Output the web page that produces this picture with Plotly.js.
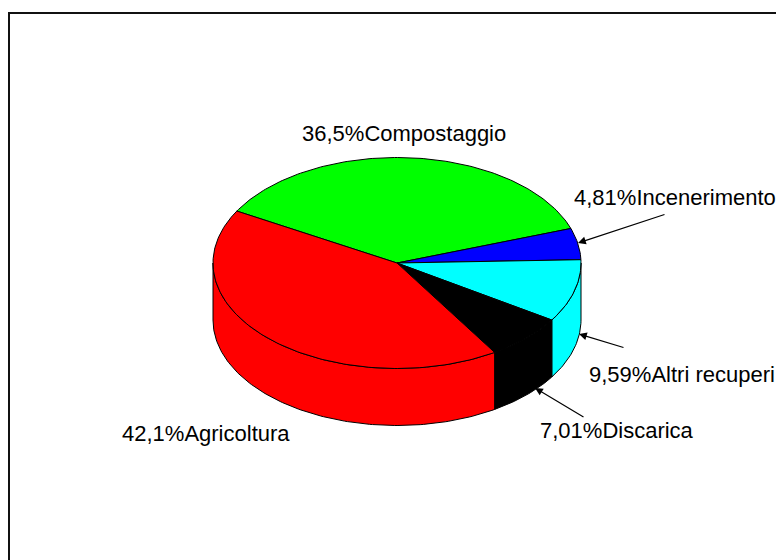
<!DOCTYPE html>
<html>
<head>
<meta charset="utf-8">
<script src="https://cdn.plot.ly/plotly-3.0.1.min.js"></script>
<style>
  html, body { margin: 0; padding: 0; background: #ffffff; }
  #chart { width: 776px; height: 560px; }
</style>
</head>
<body>
<div id="chart"></div>
<script>
// Destinazione dei fanghi: quote percentuali
const categories = ['Compostaggio', 'Incenerimento', 'Altri recuperi', 'Discarica', 'Agricoltura'];
const shares = [36.5, 4.81, 9.59, 7.01, 42.1];
const sliceColors = ['#00ff00', '#0000ff', '#00ffff', '#000000', '#ff0000'];

// Geometry of the tilted disc, in page pixels
const PIE = { cx: 397, cy: 263, rx: 184, ry: 105.5, depth: 57, startDeg: 150.5 };

const total = shares.reduce((a, b) => a + b, 0);
const fmt = v => String(v).replace('.', ',') + '%';

function arcPoints(t1, t2, dy) {
  const xs = [], ys = [];
  const n = Math.max(2, Math.ceil(Math.abs(t1 - t2)));
  for (let i = 0; i <= n; i++) {
    const t = (t1 + (t2 - t1) * i / n) * Math.PI / 180;
    xs.push(PIE.cx + PIE.rx * Math.cos(t));
    ys.push(PIE.cy - PIE.ry * Math.sin(t) + dy);
  }
  return { xs, ys };
}

// slice angle intervals, running clockwise from the start angle
const spans = [];
let acc = PIE.startDeg;
shares.forEach(v => {
  const sweep = v / total * 360;
  spans.push([acc, acc - sweep]);
  acc -= sweep;
});

const traces = [];

// visible side walls: front half of the disc, parametric angle in [-180, 0]
spans.forEach(([a, b], i) => {
  for (const shift of [0, 360, -360]) {
    const hi = Math.min(a + shift, 0);
    const lo = Math.max(b + shift, -180);
    if (hi > lo) {
      const top = arcPoints(hi, lo, 0);
      const bot = arcPoints(lo, hi, PIE.depth);
      traces.push({
        type: 'scatter', mode: 'lines', fill: 'toself',
        x: top.xs.concat(bot.xs, [top.xs[0]]),
        y: top.ys.concat(bot.ys, [top.ys[0]]),
        fillcolor: sliceColors[i],
        line: { color: '#000000', width: 1 },
        hoverinfo: 'skip'
      });
    }
  }
});

// top faces
spans.forEach(([a, b], i) => {
  const arc = arcPoints(a, b, 0);
  traces.push({
    type: 'scatter', mode: 'lines', fill: 'toself',
    x: [PIE.cx].concat(arc.xs, [PIE.cx]),
    y: [PIE.cy].concat(arc.ys, [PIE.cy]),
    fillcolor: sliceColors[i],
    line: { color: '#000000', width: 1 },
    hoverinfo: 'skip',
    name: categories[i]
  });
});

// label placement: [x, y, xanchor]
const labelPos = [
  [404, 133, 'center'],
  [572, 197, 'left'],
  [587, 374, 'left'],
  [538, 430, 'left'],
  [120, 433, 'left']
];
// leader arrows: [labelIndex, tipX, tipY, tailX, tailY]
const leaders = [
  [1, 578, 243, 666, 214],
  [2, 579, 334, 625, 348],
  [3, 535, 388, 585, 418]
];

const font = { family: 'Liberation Sans, Arial, sans-serif', size: 22, color: '#000000' };
const annotations = categories.map((c, i) => ({
  x: labelPos[i][0], y: labelPos[i][1], xref: 'x', yref: 'y',
  text: fmt(shares[i]) + c,
  showarrow: false, xanchor: labelPos[i][2], yanchor: 'middle',
  font: font
}));
leaders.forEach(([i, tx, ty, ax, ay]) => {
  annotations.push({
    x: tx, y: ty, xref: 'x', yref: 'y',
    ax: ax, ay: ay, axref: 'x', ayref: 'y',
    text: '', showarrow: true,
    arrowhead: 2, arrowsize: 1.3, arrowwidth: 1.2, arrowcolor: '#000000',
    standoff: 0, startstandoff: 0
  });
});

const layout = {
  width: 776, height: 560,
  margin: { l: 0, r: 0, t: 0, b: 0 },
  paper_bgcolor: '#ffffff', plot_bgcolor: '#ffffff',
  showlegend: false,
  xaxis: { range: [0, 776], visible: false, fixedrange: true },
  yaxis: { range: [560, 0], visible: false, fixedrange: true },
  shapes: [{
    type: 'rect', xref: 'x', yref: 'y',
    x0: 9, y0: 13, x1: 800, y1: 600,
    line: { color: '#111111', width: 2 }
  }],
  annotations: annotations
};

Plotly.newPlot('chart', traces, layout, { staticPlot: true, displayModeBar: false });
</script>
</body>
</html>
